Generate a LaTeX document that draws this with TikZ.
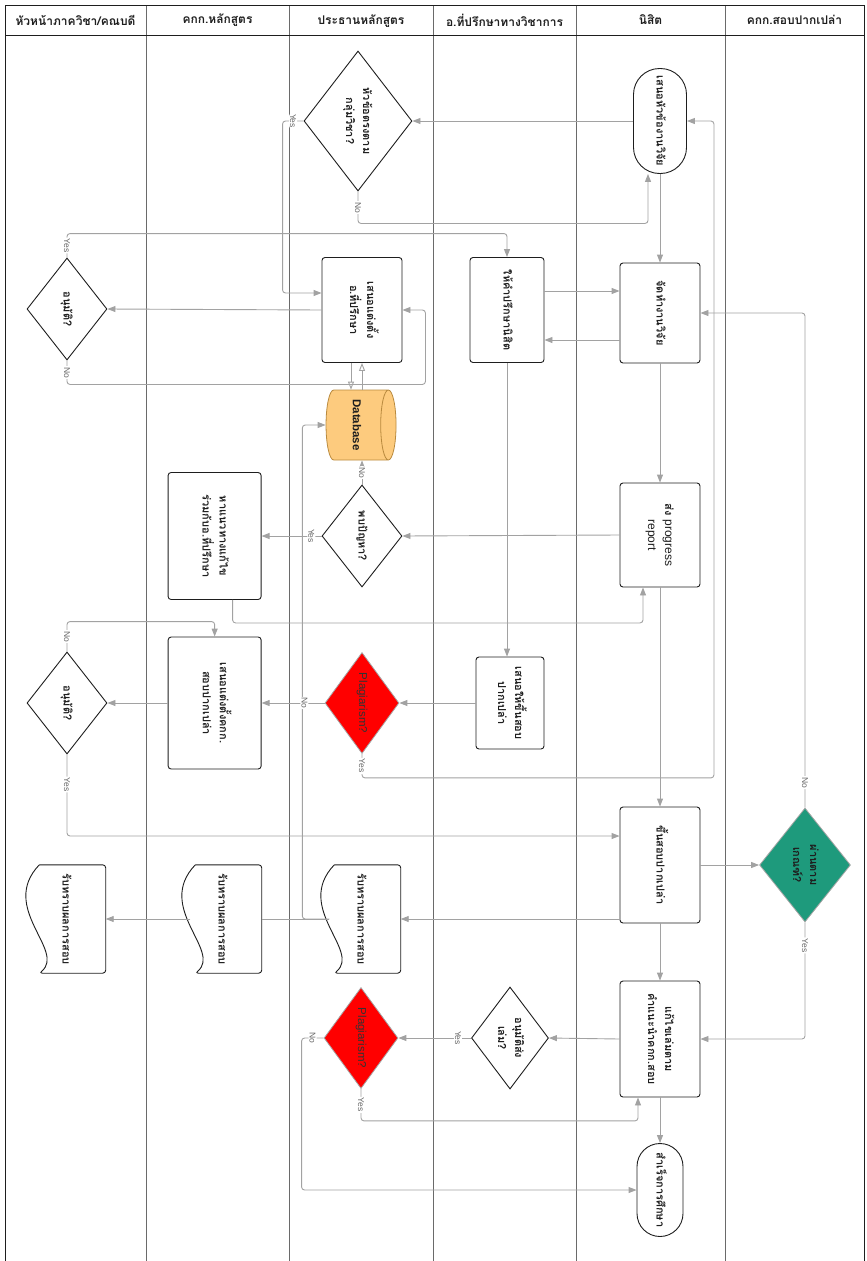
\documentclass[tikz,border=0pt]{standalone}
\usepackage{fontspec}
\setmainfont[Script=Thai]{Loma}
\newfontfamily\latinf{Liberation Sans}
\usepackage{graphicx}
\usetikzlibrary{positioning, arrows.meta, calc, shapes.geometric}
\definecolor{lnink}{HTML}{1E1E1E}
\definecolor{lnflow}{HTML}{A2A2A2}
\definecolor{lnlane}{HTML}{6A6A6A}
\definecolor{lnred}{HTML}{FF0000}
\definecolor{lngreen}{HTML}{1E9A7C}
\definecolor{lndb}{HTML}{FDCB7E}
\definecolor{lndbedge}{HTML}{B98A3E}
\newcommand{\vtxt}[1]{\rotatebox{-90}{\begin{tabular}{@{}c@{}}#1\end{tabular}}}
\newcommand{\docoutline}[1]{%
  \draw[docline] ([xshift=13pt]#1.north west) -- (#1.north east) -- (#1.south east) -- ([xshift=13pt]#1.south west)
    .. controls ([xshift=40pt,yshift=-86pt]#1.north west) and ([xshift=-28pt,yshift=-43pt]#1.north west) .. ([xshift=13pt]#1.north west);}

\begin{document}
\begin{tikzpicture}[x=1pt, y=-1pt,
    every node/.style={font=\bfseries\fontsize{11}{17}\selectfont, text=lnink},
    box/.style={draw=lnink, fill=white, rounded corners=3pt, line width=0.9pt, inner sep=0pt},
    term/.style={box, rounded corners=26pt},
    dec/.style={diamond, draw=lnink, fill=white, line width=0.9pt, inner sep=0pt},
    plag/.style={diamond, draw=black!35, fill=lnred, line width=0.8pt, inner sep=0pt, minimum width=74pt, minimum height=101pt, font=\latinf\fontsize{11.5}{13}\selectfont, text=black!80},
    pass/.style={diamond, draw=black!35, fill=lngreen, line width=0.8pt, inner sep=0pt, minimum width=91pt, minimum height=114pt},
    dbase/.style={cylinder, draw=lndbedge, fill=lndb, line width=0.8pt, inner sep=0pt, minimum width=70pt, minimum height=70pt, aspect=0.3, font=\latinf\bfseries\fontsize{11.5}{13}\selectfont},
    docnode/.style={rectangle, inner sep=0pt, minimum width=79pt, minimum height=108pt},
    docline/.style={draw=lnink, line width=0.9pt, rounded corners=3pt},
    head/.style={font=\bfseries\fontsize{12}{14}\selectfont},
    lane/.style={draw=lnlane, line width=0.8pt},
    frame/.style={draw=lnink, line width=1pt},
    flow/.style={draw=lnflow, line width=0.9pt, rounded corners=3pt, -{Triangle[length=8pt,width=6pt]}},
    hollow/.style={draw=lnflow, line width=0.9pt, -{Triangle[open,length=8pt,width=6pt]}},
    lbl/.style={fill=white, inner sep=1pt, rotate=-90, font=\latinf\fontsize{8.5}{10}\selectfont, text=black!60}]
  \useasboundingbox (0,0) rectangle (867,1261);
  % swimlanes
  \foreach \lx in {146,289,433,576,725}
    \draw[lane] (\lx,5) -- (\lx,1261);
  \draw[frame] (5,1261) -- (5,5) -- (864,5) -- (864,1261);
  \draw[frame] (5,35) -- (864,35);
  \node[head] (h1) at (75.5,20) {หัวหน้าภาควิชา/คณบดี};
  \node[head] (h2) at (217.5,20) {คกก.หลักสูตร};
  \node[head] (h3) at (361,21) {ประธานหลักสูตร};
  \node[head] (h4) at (504.5,20) {อ.ที่ปรึกษาทางวิชาการ};
  \node[head] (h5) at (650.5,20) {นิสิต};
  \node[head] (h6) at (794.5,20) {คกก.สอบปากเปล่า};

  % nodes
  \node[term, minimum width=53pt, minimum height=105pt] (topic) at (660,121) {\vtxt{เสนอหัวข้องานวิจัย}};
  \node[dec, minimum width=108pt, minimum height=140pt] (qgroup) at (358,121) {\vtxt{หัวข้อตรงตาม\\กลุ่มวิชา?}};
  \node[box, minimum width=80pt, minimum height=105pt] (appoint) at (362,310) {\vtxt{เสนอแต่งตั้ง\\อ.ที่ปรึกษา}};
  \node[dec, minimum width=80pt, minimum height=102pt] (okhead) at (67,309) {\vtxt{อนุมัติ?}};
  \node[box, minimum width=74pt, minimum height=105pt] (advise) at (507,310) {\vtxt{ให้คำปรึกษานิสิต}};
  \node[box, minimum width=80pt, minimum height=100pt] (research) at (660,313) {\vtxt{จัดทำงานวิจัย}};
  \node[dbase] (db) at (357,425) {\rotatebox{-90}{Database}};
  \node[dec, minimum width=80pt, minimum height=102pt] (issue) at (362,536) {\vtxt{พบปัญหา?}};
  \node[box, minimum width=93pt, minimum height=127pt, left=60pt of issue] (fix) {\vtxt{หาแนวทางแก้ไข\\ร่วมกับอ.ที่ปรึกษา}};
  \node[box, minimum width=80pt, minimum height=104pt] (progress) at (660,535) {\vtxt{ส่ง {\latinf\mdseries\fontsize{12}{17}\selectfont progress}\\{\latinf\mdseries\fontsize{12}{17}\selectfont report}}};
  \node[box, minimum width=68pt, minimum height=92pt] (propose) at (510,703) {\vtxt{เสนอให้ขึ้นสอบ\\ปากเปล่า}};
  \node[plag] (plag1) at (362,703) {\rotatebox{-90}{Plagiarism?}};
  \node[box, minimum width=93pt, minimum height=132pt, left=63pt of plag1] (board) {\vtxt{เสนอแต่งตั้งคกก.\\สอบปากเปล่า}};
  \node[dec, minimum width=80pt, minimum height=102pt] (okdean) at (67,703) {\vtxt{อนุมัติ?}};
  \node[box, minimum width=80pt, minimum height=116pt] (exam) at (660,865) {\vtxt{ขึ้นสอบปากเปล่า}};
  \node[pass] (pass) at (805,865) {\vtxt{ผ่านตาม\\เกณฑ์?}};
  \node[docnode] (res3) at (361,919) {\vtxt{รับทราบผลการสอบ}};
  \node[docnode] (res2) at (222,919) {\vtxt{รับทราบผลการสอบ}};
  \node[docnode] (res1) at (66,919) {\vtxt{รับทราบผลการสอบ}};
  \docoutline{res3}
  \docoutline{res2}
  \docoutline{res1}
  \node[plag] (plag2) at (361,1038) {\rotatebox{-90}{Plagiarism?}};
  \node[dec, minimum width=77pt, minimum height=102pt] (oksend) at (510,1038) {\vtxt{อนุมัติส่ง\\เล่ม?}};
  \node[box, minimum width=80pt, minimum height=116pt] (revise) at (660,1039) {\vtxt{แก้ไขเล่มตาม\\คำแนะนำคกก.สอบ}};
  \node[term, minimum width=46pt, minimum height=93pt, rounded corners=23pt] (grad) at (660,1190) {\vtxt{สำเร็จการศึกษา}};

  % connectors
  \draw[flow] (topic.west) -- (qgroup.east);
  \draw[flow] (qgroup.south) -- node[lbl]{No} ++(0,32) -| ([xshift=-12pt]topic.south);
  \draw[flow] (qgroup.west) -- node[lbl]{Yes} ++(-21,0) |- ([yshift=17pt]appoint.west);
  \draw[flow] (topic.south) -- (research.north);
  \draw[flow] (appoint.west) -- (okhead.east);
  \draw[flow] (okhead.north) -- node[lbl]{Yes} ++(0,-24) -| (advise.north);
  \draw[flow] (okhead.south) -- node[lbl]{No} ++(0,24) -| ([xshift=23pt]appoint.east) -- (appoint.east);
  \draw[flow] ([yshift=19pt]advise.east) -- ([yshift=19pt]advise.east -| research.west);
  \draw[flow] ([yshift=-27pt]research.west) -- ([yshift=-27pt]research.west -| advise.east);
  \draw[flow] (pass.north) -- node[lbl]{No} ++(0,-50) |- (research.east);
  \draw[hollow] ([xshift=-11pt]appoint.south) -- ([xshift=-11pt]appoint.south |- db.north);
  \draw[hollow] (db.north -| appoint.south) -- (appoint.south);
  \draw[flow] (issue.north) -- node[lbl]{No} (issue.north |- db.south);
  \draw[flow] ([xshift=8pt]res3.west) -- ++(-27,0) |- (db.west);
  \draw[flow] (progress.west) -- (issue.east);
  \draw[flow] (issue.west) -- node[lbl, pos=0.17]{Yes} (fix.east);
  \draw[flow] ([xshift=18pt]fix.south) -- ++(0,23) -| ([xshift=-17pt]progress.south);
  \draw[flow] (research.south) -- (progress.north);
  \draw[flow] (advise.south) -- (advise.south |- propose.north);
  \draw[flow] (propose.west) -- (plag1.east);
  \draw[flow] (plag1.west) -- node[lbl, pos=0.32]{No} (board.east);
  \draw[flow] (plag1.south) -- node[lbl]{Yes} ++(0,24) -| ([xshift=27pt]topic.east) -- (topic.east);
  \draw[flow] (board.west) -- (okdean.east);
  \draw[flow] (okdean.north) -- node[lbl]{No} ++(0,-30) -| (board.north);
  \draw[flow] (okdean.south) -- node[lbl]{Yes} ++(0,60) |- ([yshift=29pt]exam.west);
  \draw[flow] (progress.south) -- (exam.north);
  \draw[flow] (exam.east) -- (pass.west);
  \draw[flow] (exam.west |- res3.east) -- (res3.east);
  \draw[lane, draw=lnflow, line width=0.9pt] ([xshift=8pt]res3.west) -- (res2.east);
  \draw[flow] ([xshift=8pt]res2.west) -- (res1.east);
  \draw[flow] (pass.south) -- node[lbl]{Yes} ++(0,46) |- (revise.east);
  \draw[flow] (exam.south) -- (revise.north);
  \draw[flow] (revise.west) -- (oksend.east);
  \draw[flow] (oksend.west) -- node[lbl, pos=0.18]{Yes} (plag2.east);
  \draw[flow] (plag2.west) -- node[lbl]{No} ++(-22,0) |- (grad.west);
  \draw[flow] (plag2.south) -- node[lbl]{Yes} ++(0,32) -| ([xshift=-22pt]revise.south);
  \draw[flow] (revise.south) -- (grad.north);
\end{tikzpicture}
\end{document}
